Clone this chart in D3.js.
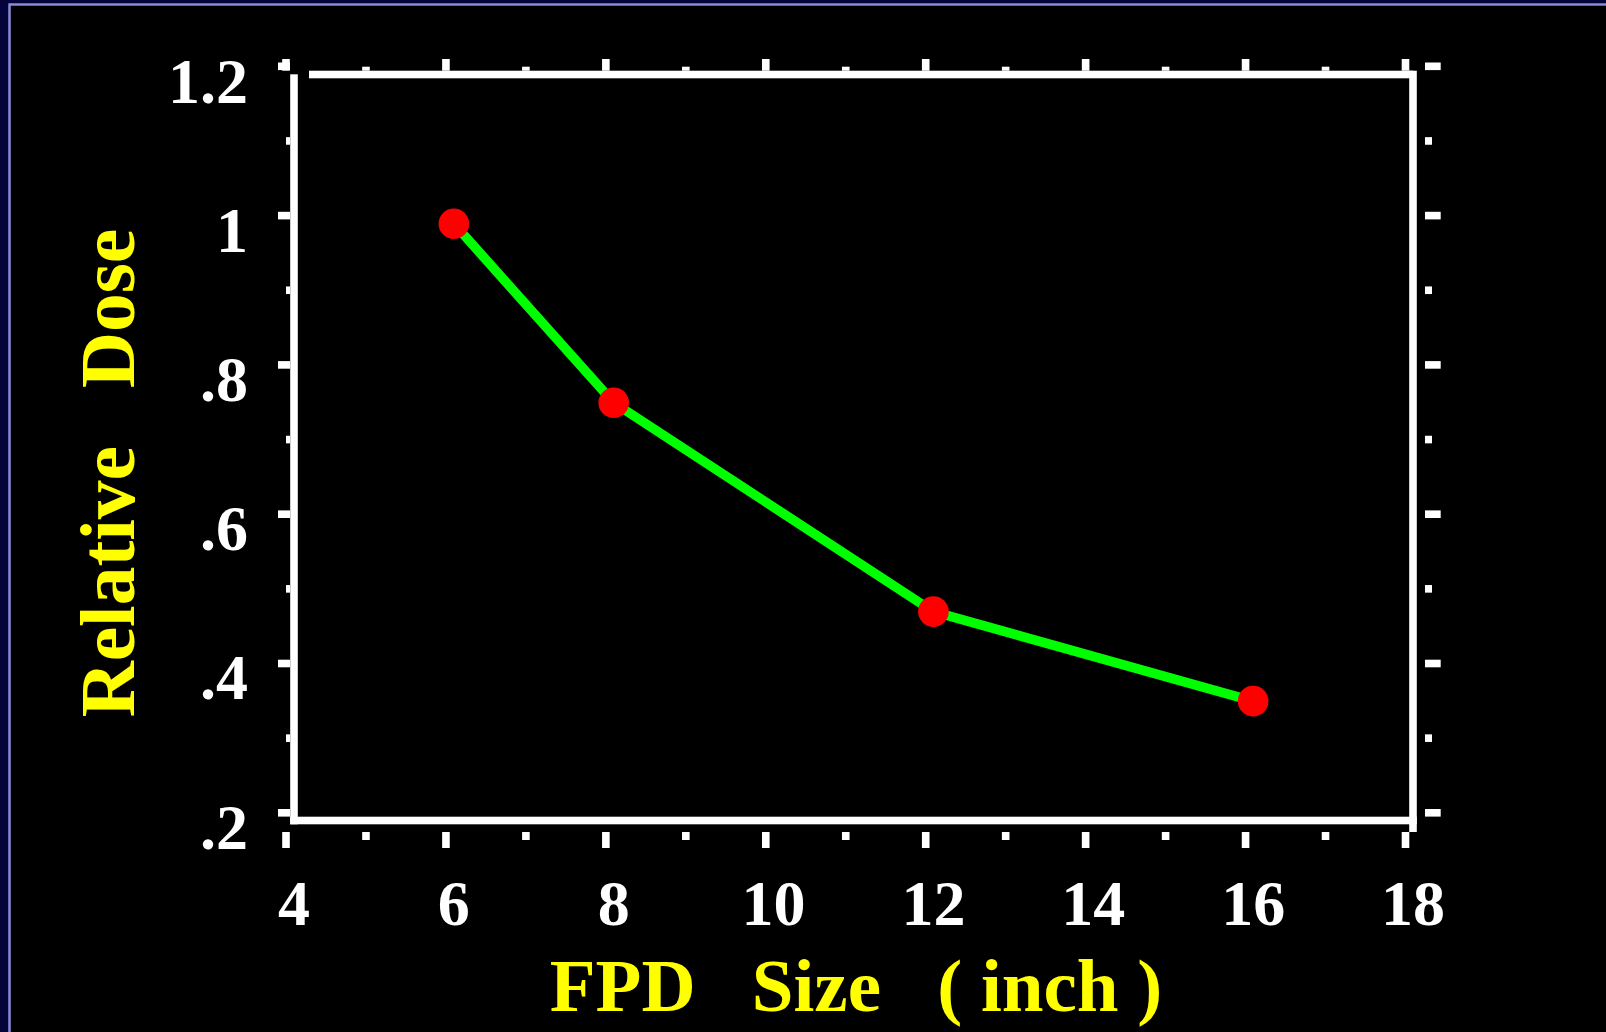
<!DOCTYPE html>
<html>
<head>
<meta charset="utf-8">
<script src="https://cdn.jsdelivr.net/npm/d3@7"></script>
<style>
  html, body { margin: 0; padding: 0; background: #000; }
  svg { display: block; }
</style>
</head>
<body>
<script>
// ---- data ----
const fpdSize = [6, 8, 12, 16];
const relativeDose = [1.0, 0.76, 0.48, 0.36];
const xTickValues = [4, 6, 8, 10, 12, 14, 16, 18];
const xTickLabels = ["4", "6", "8", "10", "12", "14", "16", "18"];
const xMinorValues = [5, 7, 9, 11, 13, 15, 17];
const yTickValues = [1.2, 1.0, 0.8, 0.6, 0.4, 0.2];
const yTickLabels = ["1.2", "1", ".8", ".6", ".4", ".2"];
const yMinorValues = [1.1, 0.9, 0.7, 0.5, 0.3];
const xTitle = "FPD   Size   ( inch )";
const yTitle = "Relative   Dose";

// ---- layout ----
const W = 1606, H = 1032;
const FONT = "'Liberation Serif','Times New Roman',serif";
const svg = d3.select("body").append("svg").attr("width", W).attr("height", H);

// background
svg.append("rect").attr("width", W).attr("height", H).attr("fill", "#04043a");
svg.append("rect").attr("x", 9).attr("y", 4).attr("width", W).attr("height", H).attr("fill", "#000");
svg.append("line").attr("x1", 9.5).attr("x2", 9.5).attr("y1", 3.5).attr("y2", H)
  .attr("stroke", "#8a8ad6").attr("stroke-width", 2.5);
svg.append("line").attr("x1", 9).attr("x2", W).attr("y1", 4.5).attr("y2", 4.5)
  .attr("stroke", "#8a8ad6").attr("stroke-width", 2.5);

// data scales (frame)
const x = d3.scaleLinear().domain([4, 18]).range([294, 1413]);
const y = d3.scaleLinear().domain([0.2, 1.2]).range([820.5, 74.5]);
// tick grid scales (offset from frame as in the original)
const xg = d3.scaleLinear().domain([4, 18]).range([286, 1405.5]);
const yg = d3.scaleLinear().domain([0.2, 1.2]).range([812.8, 66.3]);

const LW = 7.6, half = LW / 2;
const white = "#fff";

// frame
const fr = svg.append("g").attr("fill", white);
fr.append("rect").attr("x", x(4) - half).attr("y", y(1.2) - 0.2)
  .attr("width", LW).attr("height", y(0.2) + half - y(1.2) + 0.2); // left
fr.append("rect").attr("x", x(4) + 15).attr("y", y(1.2) - half)
  .attr("width", x(18) - x(4) - 15).attr("height", LW); // top
fr.append("rect").attr("x", x(18) - half).attr("y", y(1.2) - half)
  .attr("width", LW).attr("height", y(0.2) - y(1.2) + 11.5 + half); // right
fr.append("rect").attr("x", x(4) - half).attr("y", y(0.2) - half)
  .attr("width", x(18) - x(4) + LW).attr("height", LW); // bottom

// ticks
const tk = svg.append("g").attr("fill", white);
const xAll = xTickValues.map(v => ({v, major: true})).concat(xMinorValues.map(v => ({v, major: false})));
const yAll = yTickValues.map(v => ({v, major: true})).concat(yMinorValues.map(v => ({v, major: false})));
// bottom
tk.selectAll(".tb").data(xAll).join("rect")
  .attr("x", d => xg(d.v) - half).attr("y", 832)
  .attr("width", LW).attr("height", d => d.major ? 16 : 8);
// top
tk.selectAll(".tt").data(xAll).join("rect")
  .attr("x", d => xg(d.v) - half).attr("y", d => 70.7 - (d.major ? 11.7 : 4))
  .attr("width", LW).attr("height", d => d.major ? 11.7 : 4);
// left
tk.selectAll(".tl").data(yAll).join("rect")
  .attr("x", d => 290 - (d.major ? 12 : 4)).attr("y", d => yg(d.v) - half)
  .attr("width", d => d.major ? 12 : 4).attr("height", LW);
// right
tk.selectAll(".tr").data(yAll).join("rect")
  .attr("x", 1425).attr("y", d => yg(d.v) - half)
  .attr("width", d => d.major ? 15.7 : 7).attr("height", LW);

// tick labels
svg.append("g").selectAll("text").data(xTickValues).join("text")
  .attr("x", d => x(d)).attr("y", 925)
  .attr("text-anchor", "middle")
  .attr("font-family", FONT).attr("font-weight", "bold").attr("font-size", 64)
  .attr("fill", white)
  .text((d, i) => xTickLabels[i]);
svg.append("g").selectAll("text").data(yTickValues).join("text")
  .attr("x", 248).attr("y", d => y(d) + 28)
  .attr("text-anchor", "end")
  .attr("font-family", FONT).attr("font-weight", "bold").attr("font-size", 64)
  .attr("fill", white)
  .text((d, i) => yTickLabels[i]);

// axis titles
svg.append("text")
  .attr("x", 856).attr("y", 1011)
  .attr("text-anchor", "middle")
  .style("white-space", "pre")
  .attr("font-family", FONT).attr("font-weight", "bold").attr("font-size", 75)
  .attr("fill", "#ffff00")
  .text(xTitle);
svg.append("text")
  .attr("transform", "translate(134,473) rotate(-90)")
  .attr("text-anchor", "middle")
  .style("white-space", "pre")
  .attr("font-family", FONT).attr("font-weight", "bold").attr("font-size", 77.5)
  .attr("fill", "#ffff00")
  .text(yTitle);

// series
const pts = fpdSize.map((v, i) => [v, relativeDose[i]]);
svg.append("path")
  .datum(pts)
  .attr("fill", "none")
  .attr("stroke", "#00ff00")
  .attr("stroke-width", 9.5)
  .attr("d", d3.line().x(d => x(d[0])).y(d => y(d[1])));
svg.append("g").selectAll("circle").data(pts).join("circle")
  .attr("cx", d => x(d[0])).attr("cy", d => y(d[1]))
  .attr("r", 15.3)
  .attr("fill", "#ff0000");
</script>
</body>
</html>
